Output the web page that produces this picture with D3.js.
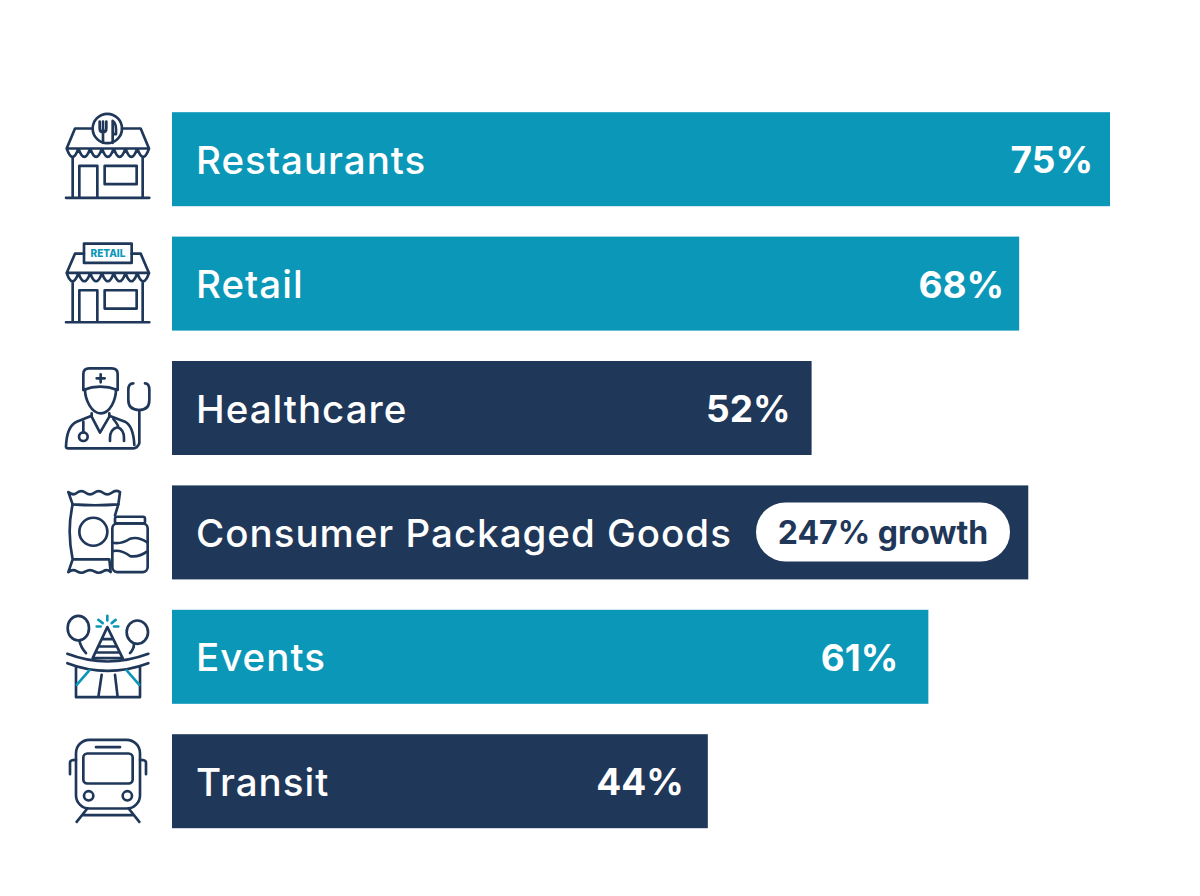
<!DOCTYPE html>
<html>
<head>
<meta charset="utf-8">
<script src="https://cdn.jsdelivr.net/npm/d3@7"></script>
<style>
  html, body { margin: 0; background: #fff; }
  svg { display: block; }
  text { font-family: Inter, "Open Sans", sans-serif; }
</style>
</head>
<body>
<svg id="chart" width="1200" height="896"></svg>
<script>
// Chart data
const categories = ["Restaurants", "Retail", "Healthcare", "Consumer Packaged Goods", "Events", "Transit"];
const barValues = [75, 68, 52, 68.7, 61, 44];
const valueLabels = ["75%", "68%", "52%", null, "61%", "44%"];
const badgeLabels = [null, null, null, "247% growth", null, null];
const highlighted = [true, true, false, false, true, false];
const iconKeys = ["restaurant", "retail", "health", "goods", "party", "train"];

const TEAL = "#0b97b8";
const NAVY = "#1f3759";

const svg = d3.select("#chart");

const x = d3.scaleLinear().domain([2.7, 75]).range([0, 938]);
const y = d3.scaleBand().domain(categories).range([112.2, 828.2]).paddingInner(0.2444);
const barLeft = 172;
const labelInset = [17, 15, 21, 0, 30, 24];

// Icon shapes live in a 3x drawing space, with y measured from the top of the row.
const scallops = d3.range(7).map(i => {
  const a = 50 + i * 35.3, b = a + 35.3;
  return `M${a},109 Q${(a + b) / 2},159 ${b},109`;
}).join("");
const storeBody = "M68,134V257M278,134V257M48,257H298M88,257V161H142V257M164,161H260V216H164Z" + scallops + "M50,109H297";

const iconShapes = {
  restaurant: g => {
    g.append("path").attr("d", storeBody + "M50,109L75,49H128M216,49H272L297,109");
    g.append("circle").attr("cx", 172).attr("cy", 49).attr("r", 44);
    g.append("path").attr("d", "M149,28V48Q149,60 159,60Q169,60 169,48V28M159,28V92M188,92V26Q200,32 198,66H188");
  },
  retail: g => {
    g.append("path").attr("d", storeBody + "M50,109L75,51H102M245,51H272L297,109");
    g.append("rect").attr("x", 102).attr("y", 21).attr("width", 143).attr("height", 58);
    g.append("text").attr("x", 174).attr("y", 61).attr("text-anchor", "middle")
      .attr("font-size", 30).attr("font-weight", 800).attr("fill", TEAL).attr("stroke", "none")
      .text("RETAIL");
  },
  health: g => {
    g.append("path").attr("d", "M100,87V39Q100,22 118,22H185Q203,22 203,39V87Q150,67 100,87Z");
    g.append("path").attr("d", "M140,52H164M152,40V64");
    g.append("path").attr("d", "M105,85C105,117 125,157 152,157C180,157 198,117 198,85");
    g.append("path").attr("d", "M125,157V167L150,215L178,167V157");
    g.append("path").attr("d", "M125,164L80,182Q50,195 48,257Q48,262 55,262H250Q262,262 268,247V147");
    g.append("path").attr("d", "M178,164L225,182Q250,195 253,252");
    g.append("path").attr("d", "M250,67Q235,67 235,87V117Q235,147 268,147Q298,147 298,117V87Q298,67 285,67");
    g.append("path").attr("d", "M100,182V214");
    g.append("circle").attr("cx", 100).attr("cy", 227).attr("r", 13);
    g.append("path").attr("d", "M190,174Q205,192 205,199M180,240V232Q180,205 202,199Q222,205 222,232V240");
  },
  goods: g => {
    g.append("path").attr("d", "M55,20Q68,32 81,22T107,22T133,22T159,22T185,22T210,20L205,57Q135,62 68,57L55,20");
    g.append("path").attr("d", "M68,57Q50,137 68,222H178M68,222L55,260Q68,250 81,258T107,258T133,258T159,258T182,260L178,222M205,57L195,90");
    g.append("circle").attr("cx", 130).attr("cy", 139).attr("r", 42);
    g.append("rect").attr("x", 195).attr("y", 94).attr("width", 90).attr("height", 20).attr("rx", 6);
    g.append("rect").attr("x", 187).attr("y", 114).attr("width", 106).attr("height", 146).attr("rx", 15);
    g.append("path").attr("d", "M187,172Q215,177 240,160Q265,152 293,172M187,197Q215,192 240,212Q265,217 293,197");
  },
  party: g => {
    g.append("ellipse").attr("cx", 85).attr("cy", 55).attr("rx", 32).attr("ry", 37);
    g.append("path").attr("d", "M88,92Q92,112 108,130");
    g.append("ellipse").attr("cx", 262).attr("cy", 67).attr("rx", 32).attr("ry", 35);
    g.append("path").attr("d", "M252,102Q252,118 240,130");
    g.append("path").attr("d", "M172,52L128,145H218ZM155,88H190M145,110H200M136,128H210");
    g.append("path").attr("stroke", TEAL).attr("d", "M172,18V32M145,30L158,40M197,30L185,40M140,50H152M192,50H205");
    g.append("path").attr("d", "M52,132Q172,178 295,132M52,160Q172,206 295,160");
    g.append("path").attr("d", "M78,170V262H270V170M155,195L145,262M195,195L203,262");
    g.append("path").attr("stroke", TEAL).attr("d", "M118,182L80,225M230,182L268,225");
  },
  train: g => {
    g.append("rect").attr("x", 78).attr("y", 17).attr("width", 192).attr("height", 206).attr("rx", 40);
    g.append("rect").attr("x", 100).attr("y", 58).attr("width", 148).attr("height", 90).attr("rx", 12);
    g.append("path").attr("d", "M138,39H210M60,120V85Q60,77 78,77M288,120V85Q288,77 270,77");
    g.append("circle").attr("cx", 116).attr("cy", 185).attr("r", 14);
    g.append("circle").attr("cx", 232).attr("cy", 185).attr("r", 14);
    g.append("path").attr("d", "M112,223L80,263M236,223L268,263M98,243H250");
  }
};

const rows = svg.selectAll("g.row")
  .data(categories.map((name, i) => ({
    name, i,
    value: barValues[i],
    label: valueLabels[i],
    badge: badgeLabels[i],
    hot: highlighted[i],
    icon: iconKeys[i]
  })))
  .join("g")
  .attr("class", "row")
  .attr("transform", d => `translate(${barLeft},${y(d.name)})`);

rows.append("rect")
  .attr("width", d => x(d.value))
  .attr("height", y.bandwidth())
  .attr("fill", d => d.hot ? TEAL : NAVY);

rows.append("text")
  .attr("x", 24)
  .attr("y", 61.5)
  .attr("fill", "#fff")
  .attr("font-size", 38.5)
  .attr("font-weight", 500)
  .attr("letter-spacing", 1)
  .text(d => d.name);

rows.filter(d => d.label).append("text")
  .attr("x", d => x(d.value) - labelInset[d.i])
  .attr("y", 61)
  .attr("text-anchor", "end")
  .attr("fill", "#fff")
  .attr("font-size", 37)
  .attr("font-weight", 700)
  .text(d => d.label);

const badges = rows.filter(d => d.badge);
badges.append("rect")
  .attr("x", 584).attr("y", 17)
  .attr("width", 254).attr("height", 59)
  .attr("rx", 29.5)
  .attr("fill", "#fff");
badges.append("text")
  .attr("x", 711).attr("y", 59)
  .attr("text-anchor", "middle")
  .attr("fill", NAVY)
  .attr("font-size", 32)
  .attr("font-weight", 700)
  .text(d => d.badge);

// Outline icons to the left of each bar
rows.append("g")
  .attr("transform", `translate(${50 - barLeft},0) scale(${1 / 3})`)
  .attr("fill", "none")
  .attr("stroke", NAVY)
  .attr("stroke-width", 8)
  .attr("stroke-linecap", "round")
  .attr("stroke-linejoin", "round")
  .each(function(d) { iconShapes[d.icon](d3.select(this)); });
</script>
</body>
</html>
